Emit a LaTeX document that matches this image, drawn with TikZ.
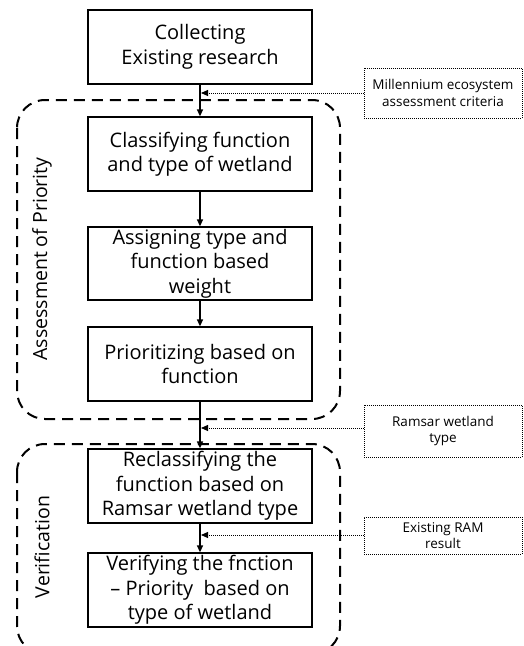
\documentclass[tikz,border=0pt]{standalone}
\usepackage{fontspec}
\setmainfont{Open Sans}
\usetikzlibrary{arrows.meta}
\begin{document}
\begin{tikzpicture}[x=1pt,y=-1pt,
  stepbox/.style={draw, line width=1.3pt, minimum width=224pt, align=center, inner sep=0pt, font=\fontsize{20}{24.5}\selectfont},
  sidebox/.style={draw, densely dotted, line width=1pt, minimum width=158pt, align=center, inner sep=0pt, font=\fontsize{13.5}{16.5}\selectfont},
  group/.style={draw, dashed, line width=2pt, dash pattern=on 11pt off 7pt, rounded corners=28pt},
  flow/.style={-{Triangle[length=7pt,width=6pt]}, line width=1.3pt},
  feed/.style={-{Triangle[length=7pt,width=6pt]}, densely dotted, line width=1pt},
  grouplabel/.style={rotate=90, font=\fontsize{19.5}{23}\selectfont}]
\useasboundingbox (0,0) rectangle (524,646);
\fill[white] (0,0) rectangle (524,646);
% groups
\draw[group] (17,100) rectangle (340,419);
\draw[group] (17,444) rectangle (340,654);
\node[grouplabel] (lab1) at (42,259) {Assessment of Priority};
\node[grouplabel] (lab2) at (42,547) {Verification};
% main boxes
\node[stepbox, minimum height=74pt] (b1) at (200,47) {Collecting\\Existing\ research};
\node[stepbox, minimum height=74pt] (b2) at (200,154) {Classifying\ function\\and\ type\ of\ wetland};
\node[stepbox, minimum height=73pt] (b3) at (200,263.5) {Assigning\ type\ and\\function based\\weight};
\node[stepbox, minimum height=74pt] (b4) at (200,364) {Prioritizing\ based\ on\\function};
\node[stepbox, minimum height=74pt] (b5) at (200,486) {Reclassifying\ the\\function\ based\ on\\Ramsar\ wetland\ type};
\node[stepbox, minimum height=74pt] (b6) at (200,590) {Verifying\ the\ fnction\\–\ Priority\ \ based\ on\\type\ of\ wetland};
% side boxes
\node[sidebox, minimum height=50pt] (s1) at (443,93) {Millennium ecosystem\\assessment criteria};
\node[sidebox, minimum height=52pt] (s2) at (443,431) {Ramsar wetland\\type};
\node[sidebox, minimum height=37pt] (s3) at (443,535.5) {Existing RAM\\result};
% flow
\draw[flow] (b1) -- (b2);
\draw[flow] (b2) -- (b3);
\draw[flow] (b3) -- (b4);
\draw[flow] (b4) -- (b5);
\draw[flow] (b5) -- (b6);
% feeds
\coordinate (t1) at (201,93);
\coordinate (t2) at (201,428);
\coordinate (t3) at (201,535);
\draw[feed] (s1.west |- t1) -- (t1);
\draw[feed] (s2.west |- t2) -- (t2);
\draw[feed] (s3.west |- t3) -- (t3);
\end{tikzpicture}
\end{document}
